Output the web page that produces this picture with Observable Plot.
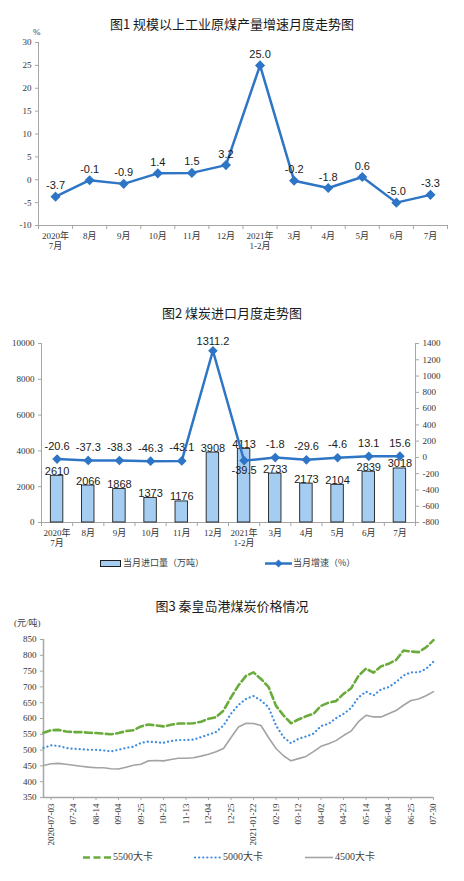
<!DOCTYPE html>
<html><head><meta charset="utf-8">
<script src="https://cdn.jsdelivr.net/npm/d3@7"></script>
<script src="https://cdn.jsdelivr.net/npm/@observablehq/plot@0.6"></script>
<style>
body{margin:0;background:#fff;}
#root{position:relative;width:464px;height:881px;overflow:hidden;font-family:"Noto Sans CJK SC",sans-serif;}
.chart{position:absolute;left:0;}
.title{position:absolute;left:0;width:464px;text-align:center;font-size:13px;line-height:16px;color:#1a1a1a;font-family:"Noto Sans CJK SC",sans-serif;}
.unit{position:absolute;font-size:9px;line-height:10px;color:#404040;font-family:"Liberation Serif","Noto Sans CJK SC",serif;}
.leg{position:absolute;font-size:9px;line-height:10px;color:#404040;white-space:nowrap;}
</style></head>
<body><div id="root"></div>
<script>
// ---------- data ----------
const months = ["2020年\n7月","8月","9月","10月","11月","12月","2021年\n1-2月","3月","4月","5月","6月","7月"];
const outputGrowth = [-3.7,-0.1,-0.9,1.4,1.5,3.2,25.0,-0.2,-1.8,0.6,-5.0,-3.3];
const importVolume = [2610,2066,1868,1373,1176,3908,4113,2733,2173,2104,2839,3018];
const importGrowth = [-20.6,-37.3,-38.3,-46.3,-43.1,1311.2,-39.5,-1.8,-29.6,-4.6,13.1,15.6];
const priceTickLabels = ["2020-07-03","07-24","08-14","09-04","09-25","10-23","11-13","12-04","12-25","2021-01-22","02-19","03-12","04-02","04-23","05-14","06-04","06-25","07-30"];
const price5500 = [555,563,564,559,557,557,555,554,552,550,554,560,563,575,581,578,575,580,584,584,585,590,599,604,625,667,705,735,746,725,700,640,610,585,597,607,615,640,650,655,678,695,735,758,745,765,773,785,815,812,810,825,848];
const price5000 = [507,515,513,507,504,503,501,501,499,496,501,507,511,523,527,525,523,529,532,532,533,541,549,557,578,615,643,662,671,657,636,578,541,522,536,543,552,576,583,601,615,633,667,685,673,692,699,715,736,746,746,757,780];
const price4500 = [451,457,458,455,452,449,446,444,444,441,440,446,452,455,466,467,466,470,474,474,476,481,487,495,505,540,573,585,584,578,540,505,482,466,473,480,495,512,520,530,546,560,590,610,605,605,615,625,642,657,662,672,685];
const seriesNames = ["5500大卡","5000大卡","4500大卡"];

// ---------- styles ----------
const BLUE = "#2e75c6";
const SERIF = "'Liberation Serif','Noto Sans CJK SC',serif";
const SANS = "'Liberation Sans',Arial,sans-serif";
const AXIS = "#a6a6a6";
const TXT = "#333333";
const root = document.getElementById("root");
function place(el, top){ el.classList.add("chart"); el.style.top = top+"px"; root.appendChild(el); }
function html(cls, text, css){ const d=document.createElement("div"); d.className=cls; d.textContent=text; Object.assign(d.style, css); root.appendChild(d); return d; }
const baseStyle = {fontFamily: SERIF, fontSize:"9px", color:TXT, background:"transparent", overflow:"visible"};

// ---------- chart 1 ----------
const rows1 = months.map((m,i)=>({i, m, v: outputGrowth[i]}));
const c1 = Plot.plot({
  width:464, height:260, marginTop:42, marginBottom:35, marginLeft:38, marginRight:17,
  style: baseStyle,
  x:{type:"linear", domain:[0,12], axis:null},
  y:{domain:[-10,30], axis:null},
  marks:[
    Plot.axisY({ticks:d3.range(-10,31,5), tickFormat:d=>String(d), tickSize:3, tickPadding:4, stroke:AXIS, fill:TXT, label:null}),
    Plot.axisX({ticks:d3.range(0,13), tickFormat:()=>"", tickSize:4, stroke:AXIS, label:null}),
    Plot.axisX({ticks:d3.range(12).map(i=>i+0.5), tickFormat:d=>months[Math.floor(d)], tickSize:0, tickPadding:6, fill:TXT, lineHeight:1.15, label:null}),
    Plot.ruleX([0], {stroke:AXIS}),
    Plot.ruleY([-10], {stroke:AXIS}),
    Plot.line(rows1, {x:d=>d.i+0.5, y:"v", stroke:BLUE, strokeWidth:2.5}),
    Plot.dot(rows1, {x:d=>d.i+0.5, y:"v", symbol:"diamond2", r:3.6, fill:BLUE, stroke:BLUE}),
    Plot.text(rows1, {x:d=>d.i+0.5, y:"v", text:d=>d.v.toFixed(1), dy:-11, fontSize:11, fontFamily:SANS, fill:"#1a1a1a"})
  ]
});
place(c1, 0);
html("title", "图1  规模以上工业原煤产量增速月度走势图", {top:"16px"});
html("unit", "%", {left:"33px", top:"27px"});

// ---------- chart 2 ----------
const g2y = g => (g + 800) / 2200 * 10000;
const rows2 = months.map((m,i)=>({i, m, vol: importVolume[i], g: importGrowth[i]}));
const c2 = Plot.plot({
  width:464, height:260, marginTop:43, marginBottom:38, marginLeft:41, marginRight:49,
  style: baseStyle,
  x:{type:"linear", domain:[0,12], axis:null},
  y:{domain:[0,10000], axis:null},
  marks:[
    Plot.axisY({ticks:d3.range(0,10001,2000), tickFormat:d=>String(d), tickSize:3, tickPadding:4, stroke:AXIS, fill:TXT, label:null}),
    Plot.axisY({anchor:"right", ticks:d3.range(-800,1401,200).map(g2y), tickFormat:v=>String(Math.round(v*2200/10000-800)), tickSize:3, tickPadding:4, stroke:AXIS, fill:TXT, label:null}),
    Plot.axisX({ticks:d3.range(0,13), tickFormat:()=>"", tickSize:4, stroke:AXIS, label:null}),
    Plot.axisX({ticks:d3.range(12).map(i=>i+0.5), tickFormat:d=>months[Math.floor(d)], tickSize:0, tickPadding:6, fill:TXT, lineHeight:1.15, label:null}),
    Plot.ruleX([0,12], {stroke:AXIS}),
    Plot.ruleY([0], {stroke:AXIS}),
    Plot.rectY(rows2, {x1:d=>d.i+0.3, x2:d=>d.i+0.7, y:"vol", fill:"#a4cdf1", stroke:"#1e1e1e", strokeWidth:0.9}),
    Plot.text(rows2, {x:d=>d.i+0.5, y:"vol", text:d=>String(d.vol), lineAnchor:"bottom", dy:-1, fontSize:11, fontFamily:SANS, fill:"#1a1a1a"}),
    Plot.line(rows2, {x:d=>d.i+0.5, y:d=>g2y(d.g), stroke:BLUE, strokeWidth:2.5}),
    Plot.dot(rows2, {x:d=>d.i+0.5, y:d=>g2y(d.g), symbol:"diamond2", r:3.4, fill:BLUE, stroke:BLUE}),
    Plot.text(rows2.filter(d=>d.i!==6 && d.i!==5), {x:d=>d.i+0.5, y:d=>g2y(d.g), text:d=>d.g.toFixed(1), dy:-13, fontSize:11, fontFamily:SANS, fill:"#1a1a1a"}),
    Plot.text(rows2.filter(d=>d.i===5), {x:d=>d.i+0.5, y:d=>g2y(d.g), text:d=>d.g.toFixed(1), dy:-9, fontSize:11, fontFamily:SANS, fill:"#1a1a1a"}),
    Plot.text(rows2.filter(d=>d.i===6), {x:d=>d.i+0.5, y:d=>g2y(d.g), text:d=>d.g.toFixed(1), dy:10, fontSize:11, fontFamily:SANS, fill:"#1a1a1a"})
  ]
});
place(c2, 300);
html("title", "图2  煤炭进口月度走势图", {top:"305px"});
// legend 2
(function(){
  const ns="http://www.w3.org/2000/svg";
  const s=document.createElementNS(ns,"svg"); s.setAttribute("width","464"); s.setAttribute("height","20");
  s.style.position="absolute"; s.style.left="0"; s.style.top="553px";
  s.innerHTML = `<rect x="100.5" y="7.5" width="20" height="6" fill="#a4cdf1" stroke="#1e1e1e" stroke-width="1"/>
    <line x1="265" x2="292" y1="10.5" y2="10.5" stroke="${BLUE}" stroke-width="2.5"/>
    <path d="M278.5,6.5 L282.5,10.5 L278.5,14.5 L274.5,10.5Z" fill="${BLUE}"/>`;
  root.appendChild(s);
  html("leg", "当月进口量（万吨）", {left:"123px", top:"558px"});
  html("leg", "当月增速（%）", {left:"293px", top:"558px"});
})();

// ---------- chart 3 ----------
const rows3 = [];
[price5500, price5000, price4500].forEach((arr,k)=>arr.forEach((v,i)=>rows3.push({i, v, s:seriesNames[k]})));
const c3 = Plot.plot({
  width:464, height:260, marginTop:39, marginBottom:63, marginLeft:43, marginRight:31,
  style: baseStyle,
  x:{type:"linear", domain:[0,52], axis:null},
  y:{domain:[350,850], axis:null},
  marks:[
    Plot.axisY({ticks:d3.range(350,851,50), tickFormat:d=>String(d), tickSize:3, tickPadding:4, stroke:AXIS, fill:TXT, label:null}),
    Plot.axisX({ticks:priceTickLabels.map((t,k)=>1+3*k), tickFormat:d=>priceTickLabels[(d-1)/3], tickRotate:-90, tickSize:3, tickPadding:3, stroke:AXIS, fill:TXT, label:null}),
    Plot.ruleX([0], {stroke:AXIS, strokeWidth:1.5}),
    Plot.ruleY([350], {stroke:AXIS, strokeWidth:1.5}),
    Plot.line(rows3.filter(d=>d.s===seriesNames[2]), {x:"i", y:"v", stroke:"#a3a3a3", strokeWidth:1.6}),
    Plot.line(rows3.filter(d=>d.s===seriesNames[1]), {x:"i", y:"v", stroke:"#3d8be0", strokeWidth:2.2, strokeDasharray:"0.1,4", strokeLinecap:"round"}),
    Plot.line(rows3.filter(d=>d.s===seriesNames[0]), {x:"i", y:"v", stroke:"#6aac3c", strokeWidth:2.6, strokeDasharray:"7,3.5"})
  ]
});
place(c3, 600);
html("title", "图3  秦皇岛港煤炭价格情况", {top:"598px"});
html("unit", "(元/吨)", {left:"14px", top:"618px"});
(function(){
  const ns="http://www.w3.org/2000/svg";
  const s=document.createElementNS(ns,"svg"); s.setAttribute("width","464"); s.setAttribute("height","20");
  s.style.position="absolute"; s.style.left="0"; s.style.top="847px";
  s.innerHTML = `<line x1="83" x2="112" y1="10.5" y2="10.5" stroke="#6aac3c" stroke-width="2.6" stroke-dasharray="7,3.5"/>
    <line x1="195" x2="221" y1="10.5" y2="10.5" stroke="#3d8be0" stroke-width="2.2" stroke-dasharray="0.1,4" stroke-linecap="round"/>
    <line x1="305" x2="333" y1="10.5" y2="10.5" stroke="#a3a3a3" stroke-width="1.6"/>`;
  root.appendChild(s);
  const lf = {fontSize:"10px", lineHeight:"12px", fontFamily:SERIF};
  html("leg", seriesNames[0], Object.assign({left:"113px", top:"851px"}, lf));
  html("leg", seriesNames[1], Object.assign({left:"223px", top:"851px"}, lf));
  html("leg", seriesNames[2], Object.assign({left:"335px", top:"851px"}, lf));
})();
</script></body></html>
